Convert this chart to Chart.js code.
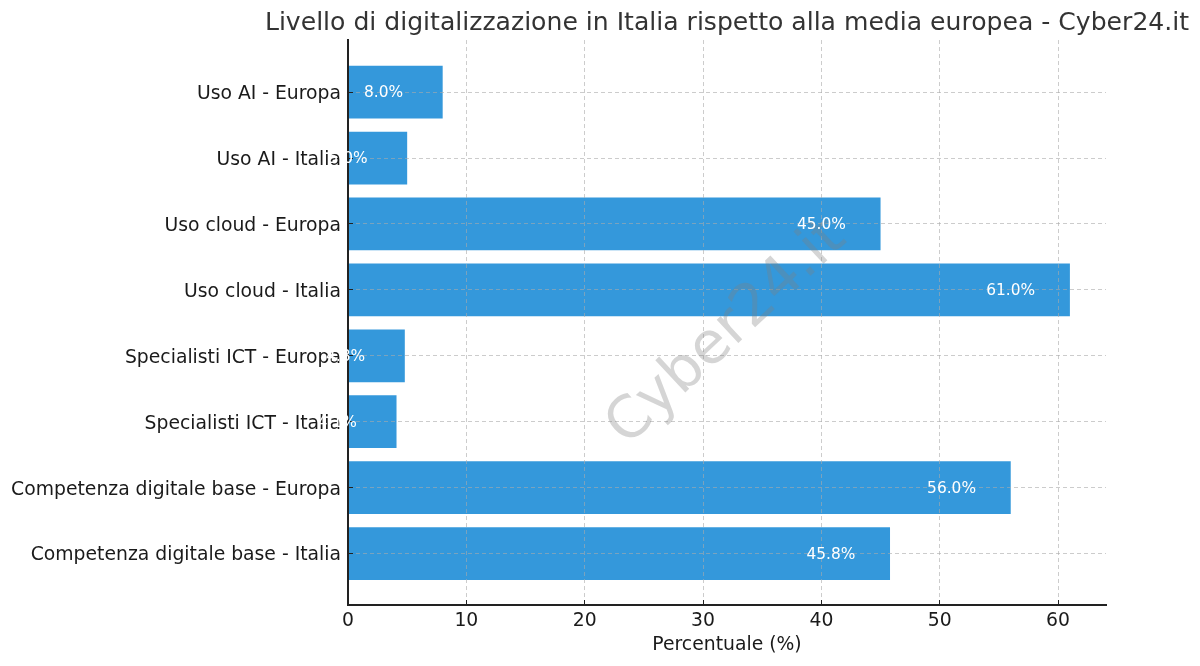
<!DOCTYPE html>
<html>
<head>
<meta charset="utf-8">
<title>Livello di digitalizzazione</title>
<script src="https://cdn.jsdelivr.net/npm/chart.js@4"></script>
<style>
    html, body { margin: 0; padding: 0; background: #fff; }
    #chart { display: block; }
</style>
</head>
<body>
<canvas id="chart" width="1200" height="666"></canvas>
<script>
// bottom to top, same order as the bars appear going up
const categories = [
    "Competenza digitale base - Italia",
    "Competenza digitale base - Europa",
    "Specialisti ICT - Italia",
    "Specialisti ICT - Europa",
    "Uso cloud - Italia",
    "Uso cloud - Europa",
    "Uso AI - Italia",
    "Uso AI - Europa"
];
const percentages = [45.8, 56.0, 4.1, 4.8, 61.0, 45.0, 5.0, 8.0];
const xTicks = [0, 10, 20, 30, 40, 50, 60];

const chartTitle = "Livello di digitalizzazione in Italia rispetto alla media europea - Cyber24.it";
const xLabel = "Percentuale (%)";
const watermark = "Cyber24.it";

const fontName = "'DejaVu Sans'";
const darkText = "#1a1a1a";

// Value labels sit 5 units left of the bar end and paint over the tick labels
const overlayPlugin = {
    id: "overlay",
    beforeDraw(chart) {
        // centre the title on the plot instead of the canvas
        chart.titleBlock.left = 254;
        chart.titleBlock.right = 1200;
    },
    afterDraw(chart) {
        const { ctx, scales } = chart;
        ctx.save();
        ctx.textAlign = "center";
        ctx.textBaseline = "middle";

        ctx.save();
        ctx.translate(727, 333);
        ctx.rotate(-43 * Math.PI / 180);
        ctx.font = "58px " + fontName;
        ctx.fillStyle = "rgba(128, 128, 128, 0.33)";
        ctx.fillText(watermark, 0, 0);
        ctx.restore();

        ctx.font = "15.4px " + fontName;
        ctx.fillStyle = "#ffffff";
        percentages.forEach((value, i) => {
            ctx.fillText(value.toFixed(1) + "%", scales.x.getPixelForValue(value - 5), scales.y.getPixelForValue(i) + 1);
        });
        ctx.restore();
    }
};

new Chart(document.getElementById("chart"), {
    type: "bar",
    data: {
        datasets: [{
            label: "Percentuale",
            data: percentages.map((value, i) => ({ x: value, y: i })),
            backgroundColor: "#3498db",
            borderWidth: 0,
            barPercentage: 0.8,
            categoryPercentage: 1
        }]
    },
    options: {
        indexAxis: "y",
        responsive: false,
        animation: false,
        devicePixelRatio: 1,
        layout: { padding: { right: 94 } },
        plugins: {
            legend: { display: false },
            tooltip: { enabled: false },
            title: {
                display: true,
                text: chartTitle,
                color: "#333333",
                font: { family: fontName, size: 25.1, weight: "normal" },
                padding: { top: 8, bottom: 1.9 }
            }
        },
        scales: {
            x: {
                type: "linear",
                min: 0,
                max: 64.05,
                afterBuildTicks: axis => { axis.ticks = xTicks.map(v => ({ value: v })); },
                afterFit: axis => { axis.height = 61; },
                border: { display: true, color: "#222222", width: 2, z: 2, dash: [4, 3] },
                grid: { color: "rgba(170, 170, 170, 0.6)", lineWidth: 1, z: 1, tickColor: "#222222", tickLength: -5, tickBorderDash: [] },
                ticks: { color: darkText, font: { family: fontName, size: 18.8 }, padding: 10, maxRotation: 0 },
                title: { display: true, text: xLabel, color: darkText, font: { family: fontName, size: 18.8 }, padding: { top: 0, bottom: 10 } }
            },
            y: {
                type: "linear",
                offset: false,
                min: -0.78,
                max: 7.79,
                afterBuildTicks: axis => { axis.ticks = categories.map((c, i) => ({ value: i })); },
                afterFit: axis => { axis.width = 348; },
                border: { display: true, color: "#222222", width: 2, z: 2, dash: [4, 3] },
                grid: { offset: false, color: "rgba(170, 170, 170, 0.6)", lineWidth: 1, z: 1, tickColor: "#222222", tickLength: -5, tickBorderDash: [] },
                ticks: { color: darkText, font: { family: fontName, size: 18.8 }, padding: 12, labelOffset: 2, callback: value => categories[value] }
            }
        }
    },
    plugins: [overlayPlugin]
});
</script>
</body>
</html>
